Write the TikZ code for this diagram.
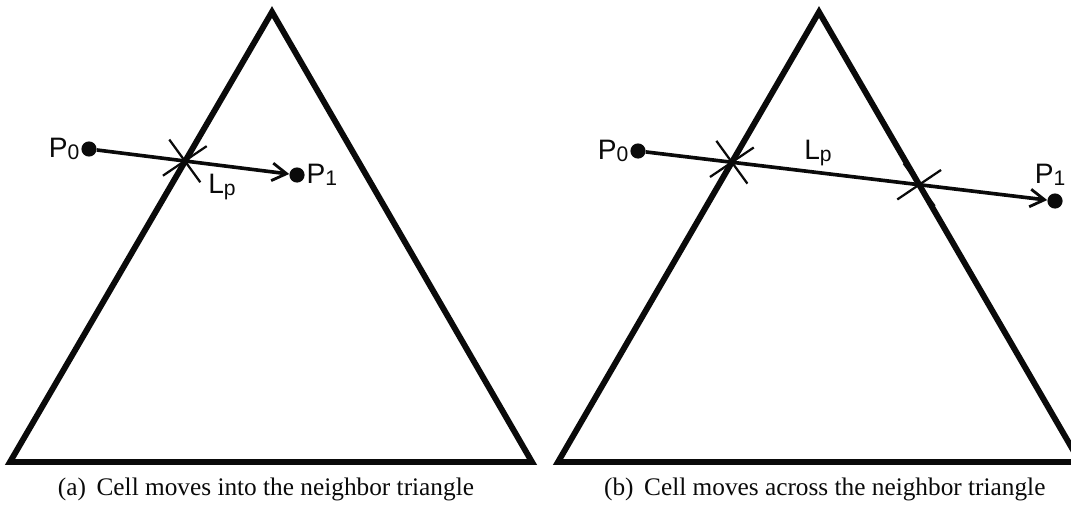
\documentclass[tikz,border=0pt]{standalone}
\usepackage{fontspec}
\setmainfont{Liberation Serif}
\newfontfamily\labelfont{Liberation Sans}
\usetikzlibrary{arrows.meta,calc}
\usepackage{xcolor}
\definecolor{inkblack}{HTML}{0A0A0A}
\tikzset{
  tri/.style     ={draw=inkblack, line width=4.2pt, line join=miter},
  lpath/.style   ={draw=inkblack, line width=2.6pt,
                   -{Straight Barb[length=3.6mm,width=4.4mm,line width=2pt]}},
  xarm/.style    ={draw=inkblack, line width=1.6pt},
  dot/.style     ={circle, fill=inkblack, inner sep=0pt, minimum size=3.8mm},
  plbl/.style    ={font=\fontsize{20}{20}\selectfont\labelfont, text=inkblack, inner sep=1pt},
  captext/.style ={font=\fontsize{18}{18}\selectfont, text=inkblack, inner sep=0pt},
}
\newcommand{\crossmark}[1]{%
  \draw[xarm] ($(#1)+(126:0.66)$) -- ($(#1)+(-54:0.66)$);
  \draw[xarm] ($(#1)+(214:0.66)$) -- ($(#1)+(34:0.66)$);
}
\newcommand{\idx}[1]{\raisebox{-1.5pt}{\fontsize{15}{15}\selectfont #1}}

\begin{document}
\begin{tikzpicture}
\useasboundingbox (0,0) rectangle (26.775,12.775);
\clip (0,0) rectangle (26.775,12.775);

% ---------------- triangles ----------------
\coordinate (atop) at ( 6.800,12.475);
\coordinate (abl)  at ( 0.250, 1.225);
\coordinate (abr)  at (13.300, 1.225);
\coordinate (btop) at (20.475,12.475);
\coordinate (bbl)  at (13.950, 1.225);
\coordinate (bbr)  at (27.000, 1.225);
\draw[tri] (abl) -- (atop) -- (abr) -- cycle;
\draw[tri] (bbl) -- (btop) -- (bbr) -- cycle;

% ---------------- (a) into the neighbor ----------------
\node[dot] (a0) at ( 2.225, 9.050) {};
\node[dot] (a1) at ( 7.425, 8.400) {};
\node[plbl, anchor=east] (a0lbl) at (a0.west) {P\idx{0}};
\node[plbl, anchor=west] (a1lbl) at (a1.east) {P\idx{1}};
\draw[lpath] (a0) -- (a1);
\coordinate (ax) at (4.620,8.752);
\crossmark{ax}
\node[plbl] (alp) at (5.55,8.10) {L\idx{p}};

% ---------------- (b) across the neighbor ----------------
\node[dot] (b0) at (15.950, 9.000) {};
\node[dot] (b1) at (26.375, 7.750) {};
\node[plbl, anchor=east] (b0lbl) at (b0.west) {P\idx{0}};
\node[plbl] (b1lbl) at (26.25,8.40) {P\idx{1}};
\draw[lpath] (b0) -- (b1);
\coordinate (bx1) at (18.297,8.719);
\coordinate (bx2) at (22.979,8.157);
\crossmark{bx1}
\crossmark{bx2}
\node[plbl] (blp) at (20.45,8.95) {L\idx{p}};

% ---------------- captions ----------------
\node[captext] (capa) at ( 6.65,0.55) {(a)\, Cell moves into the neighbor triangle};
\node[captext] (capb) at (20.62,0.55) {(b)\, Cell moves across the neighbor triangle};

\end{tikzpicture}
\end{document}
